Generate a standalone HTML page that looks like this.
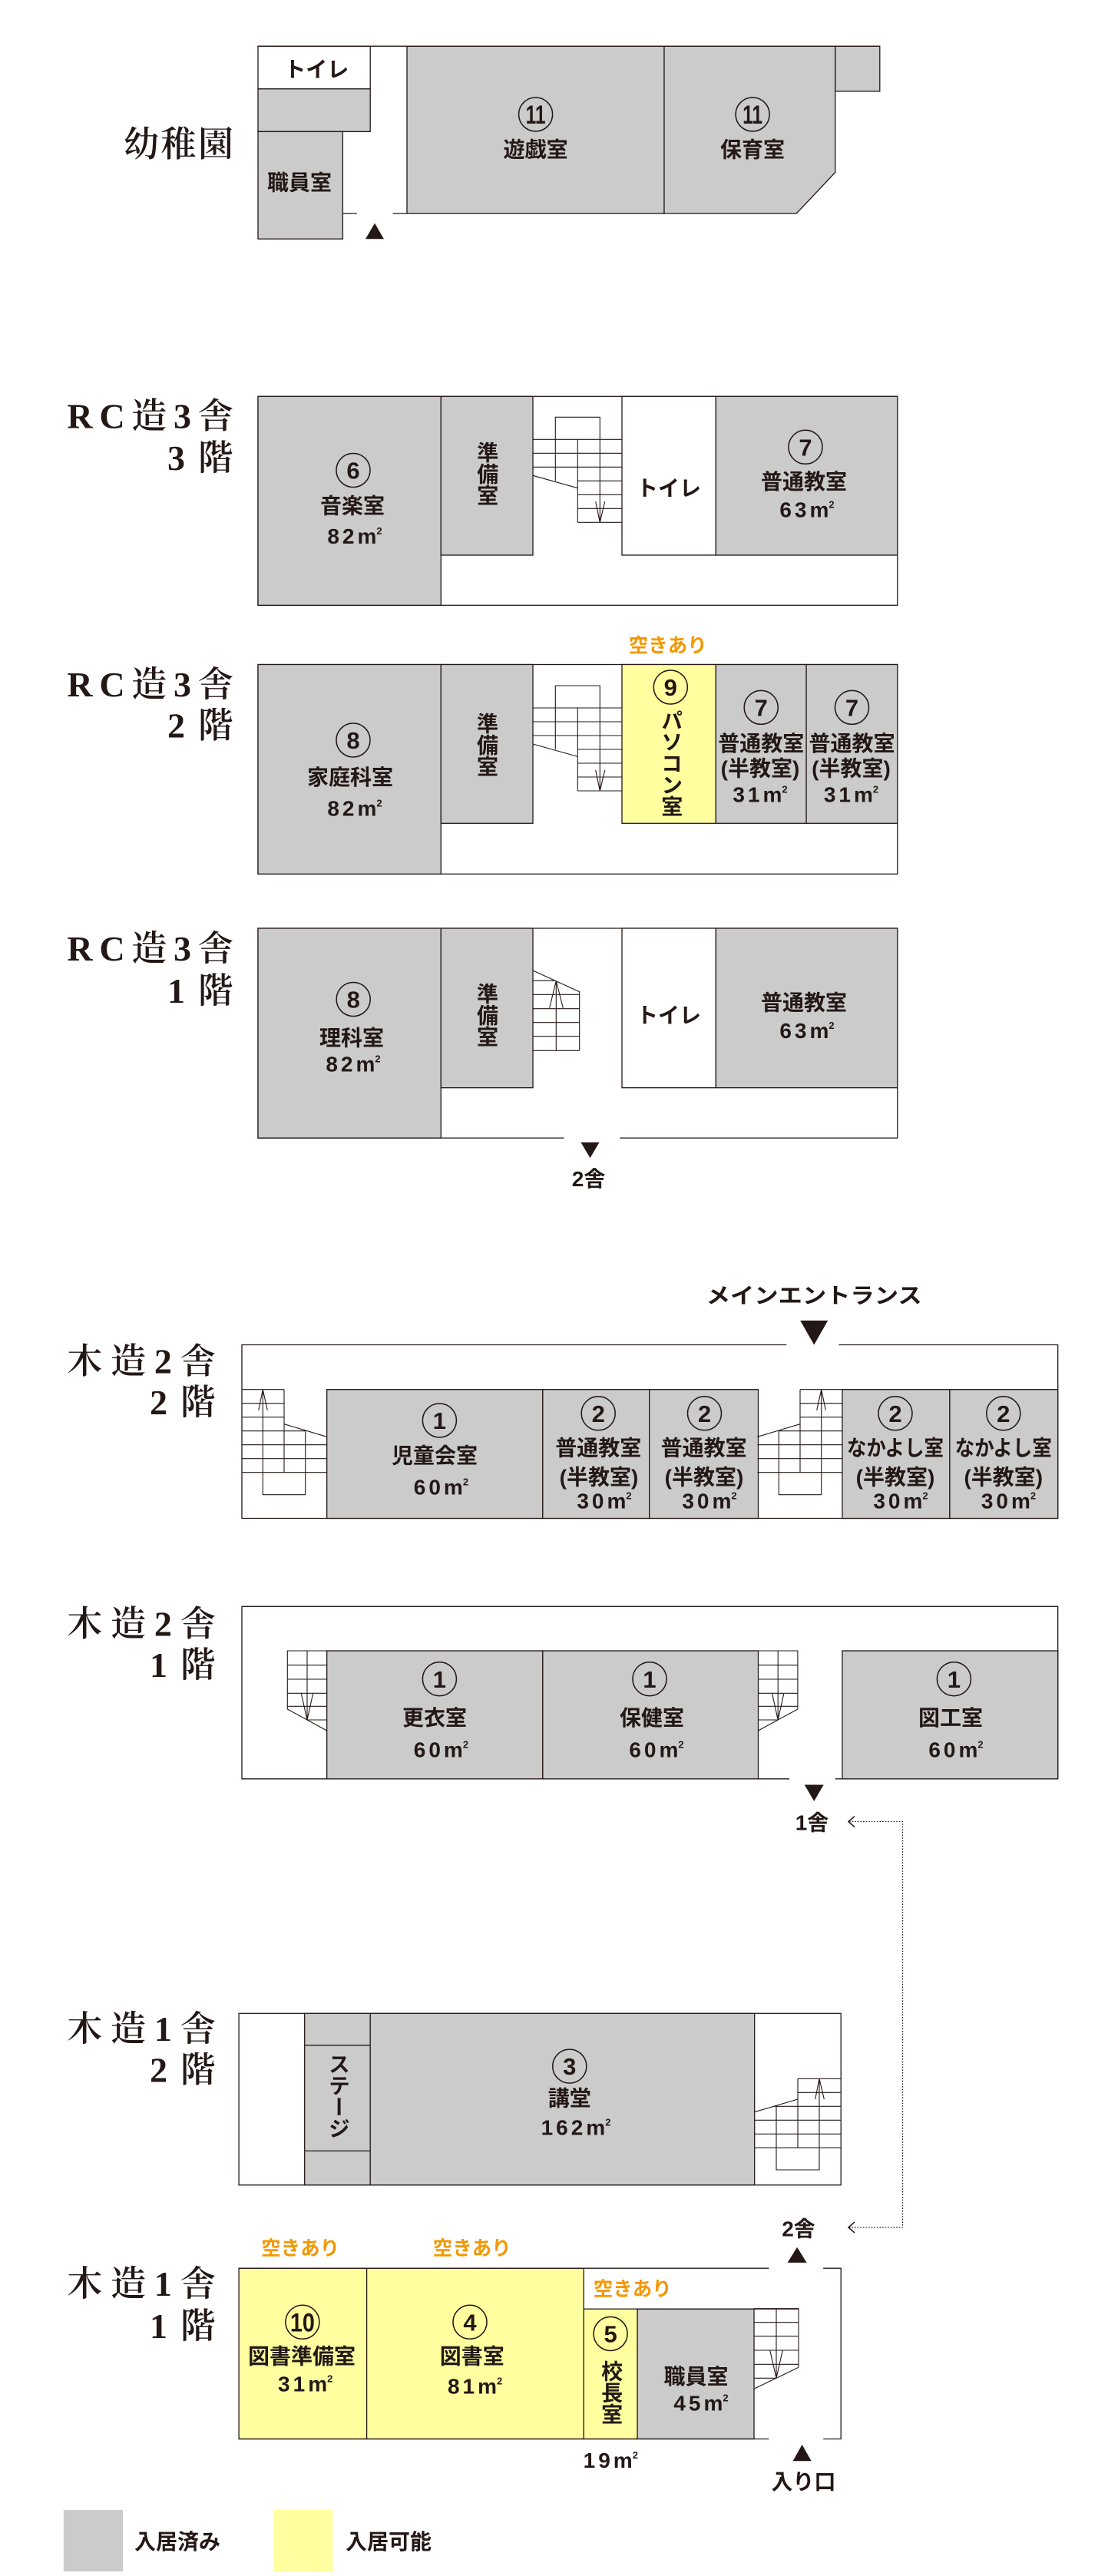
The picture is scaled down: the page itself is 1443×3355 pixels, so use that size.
<!DOCTYPE html>
<html><head><meta charset="utf-8">
<style>
html,body{margin:0;padding:0;background:#fff;}
#w{position:relative;width:1443px;height:3355px;overflow:hidden;background:#fff;}
svg{position:absolute;left:0;top:0;}
.g{fill:#cbcbcb;stroke:#231815;stroke-width:1.3}
.y{fill:#ffffa0;stroke:#231815;stroke-width:1.3}
.w{fill:#fff;stroke:#231815;stroke-width:1.3}
.n{fill:none;stroke:#231815;stroke-width:1.3}
.s{fill:none;stroke:#231815;stroke-width:1.1}
.c{fill:none;stroke:#231815;stroke-width:1.5}
.k{fill:#231815}
.t{font-family:"Liberation Sans","Noto Sans CJK JP",sans-serif;font-weight:700;font-size:28px;fill:#231815;text-anchor:middle}
.m{font-family:"Liberation Sans","Noto Sans CJK JP",sans-serif;font-weight:700;font-size:28px;fill:#231815;text-anchor:middle;letter-spacing:4px}
.o{font-family:"Liberation Sans","Noto Sans CJK JP",sans-serif;font-weight:700;font-size:25.5px;fill:#f39800;text-anchor:middle}
.cn{font-family:"Liberation Sans",sans-serif;font-weight:700;font-size:31px;fill:#231815;text-anchor:middle}
.cn2{font-family:"Liberation Sans",sans-serif;font-weight:700;font-size:34px;fill:#231815;text-anchor:middle}
.L{font-family:"Liberation Serif","Noto Serif CJK SC",serif;font-weight:600;font-size:46px;fill:#231815}
.v{position:absolute;writing-mode:vertical-rl;font-family:"Liberation Sans","Noto Sans CJK JP",sans-serif;font-weight:700;font-size:28px;line-height:28px;width:28px;color:#231815;white-space:nowrap;}
</style></head><body><div id="w">
<svg width="1443" height="3355" viewBox="0 0 1443 3355" xmlns="http://www.w3.org/2000/svg">

<!-- ===== 幼稚園 ===== -->
<rect class="w" x="336" y="60.2" width="146.2" height="55.6"/>
<rect class="g" x="336" y="115.8" width="146.2" height="55.6"/>
<rect class="g" x="336" y="171.4" width="110.4" height="139.8"/>
<rect class="g" x="530" y="60.2" width="335" height="217.9"/>
<polygon class="g" points="865,60.2 1087.8,60.2 1087.8,224.5 1037.2,278.1 865,278.1"/>
<rect class="g" x="1087.8" y="60.2" width="58" height="58.7"/>
<path class="n" d="M336,60.2H1145.8 M446.4,278.1H464.8 M511.7,278.1H530"/>
<polygon class="k" points="476,311.2 488,290.8 500,311.2"/>
<text class="L" x="161" y="203.7" textLength="143" lengthAdjust="spacing">幼稚園</text>
<text class="t" x="412.3" y="99.8">トイレ</text>
<text class="t" x="390" y="247.7">職員室</text>
<circle class="c" cx="697.6" cy="149" r="22"/><text class="cn2" x="697.6" y="161.2" textLength="26" lengthAdjust="spacingAndGlyphs">11</text>
<text class="t" x="697.6" y="204.5">遊戯室</text>
<circle class="c" cx="980.1" cy="149" r="22"/><text class="cn2" x="980.1" y="161.2" textLength="26" lengthAdjust="spacingAndGlyphs">11</text>
<text class="t" x="980" y="204.5">保育室</text>

<!-- ===== RC 3F ===== -->
<rect class="w" x="336" y="516.3" width="832.8" height="272"/>
<rect class="g" x="336" y="516.3" width="238.3" height="272"/>
<rect class="g" x="574.3" y="516.3" width="119.7" height="206.7"/>
<rect class="w" x="810" y="516.3" width="122.3" height="206.7"/>
<rect class="g" x="932.3" y="516.3" width="236.5" height="206.7"/>
<g id="st3">
<path class="s" d="M723.3,626.3V543.3H781.3V680.3 M694,572.3H810 M694,590.3H810 M694,608.3H810 M752.3,626.3H810 M752.3,644.3H810 M752.3,662.3H810 M752.3,680.3H810 M752.3,572.3V680.3 M694,619.3L752.3,635.7 M775.7,653.3L781.3,680.3L787.7,653.3"/>
</g>
<text class="L" x="87.4" y="557.3" textLength="216.3" lengthAdjust="spacing">RC造3舎</text>
<text class="L" x="218" y="611.9" textLength="85.7" lengthAdjust="spacing">3階</text>
<circle class="c" cx="460" cy="612.5" r="22"/><text class="cn" x="460" y="623.6">6</text>
<text class="t" x="459" y="668.7">音楽室</text>
<text class="m" x="462" y="708">82<tspan letter-spacing="0">m</tspan><tspan font-size="13" dy="-12" letter-spacing="0">2</tspan></text>
<text class="t" x="871" y="645.7">トイレ</text>
<circle class="c" cx="1049" cy="582.3" r="22"/><text class="cn" x="1049" y="593.4">7</text>
<text class="t" x="1047" y="637">普通教室</text>
<text class="m" x="1051" y="673.3">63<tspan letter-spacing="0">m</tspan><tspan font-size="13" dy="-12" letter-spacing="0">2</tspan></text>

<!-- ===== RC 2F ===== -->
<rect class="w" x="336" y="865.5" width="832.8" height="272.8"/>
<rect class="g" x="336" y="865.5" width="238.3" height="272.8"/>
<rect class="g" x="574.3" y="865.5" width="119.7" height="206.8"/>
<rect class="y" x="810" y="865.5" width="122.3" height="206.8"/>
<rect class="g" x="932.3" y="865.5" width="117.8" height="206.8"/>
<rect class="g" x="1050.1" y="865.5" width="118.7" height="206.8"/>
<g transform="translate(0,349.7)">
<path class="s" d="M723.3,626.3V543.3H781.3V680.3 M694,572.3H810 M694,590.3H810 M694,608.3H810 M752.3,626.3H810 M752.3,644.3H810 M752.3,662.3H810 M752.3,680.3H810 M752.3,572.3V680.3 M694,619.3L752.3,635.7 M775.7,653.3L781.3,680.3L787.7,653.3"/>
</g>
<text class="L" x="87.4" y="906.8" textLength="216.3" lengthAdjust="spacing">RC造3舎</text>
<text class="L" x="218" y="960.4" textLength="85.7" lengthAdjust="spacing">2階</text>
<text class="o" x="869.7" y="849.4">空きあり</text>
<circle class="c" cx="460" cy="964" r="22"/><text class="cn" x="460" y="975.1">8</text>
<text class="t" x="456" y="1022.2">家庭科室</text>
<text class="m" x="462" y="1062.6">82<tspan letter-spacing="0">m</tspan><tspan font-size="13" dy="-12" letter-spacing="0">2</tspan></text>
<circle class="c" cx="873.3" cy="895" r="22"/><text class="cn" x="873.3" y="906.1">9</text>
<circle class="c" cx="991.2" cy="921.4" r="22"/><text class="cn" x="991.2" y="932.5">7</text>
<text class="t" x="991.2" y="977.8">普通教室</text>
<text class="t" x="990" y="1010.5">(半教室)</text>
<text class="m" x="990" y="1044.7">31<tspan letter-spacing="0">m</tspan><tspan font-size="13" dy="-12" letter-spacing="0">2</tspan></text>
<circle class="c" cx="1109.5" cy="921.4" r="22"/><text class="cn" x="1109.5" y="932.5">7</text>
<text class="t" x="1109.5" y="977.8">普通教室</text>
<text class="t" x="1108.5" y="1010.5">(半教室)</text>
<text class="m" x="1108.5" y="1044.7">31<tspan letter-spacing="0">m</tspan><tspan font-size="13" dy="-12" letter-spacing="0">2</tspan></text>

<!-- ===== RC 1F ===== -->
<rect fill="#fff" x="336" y="1209" width="832.8" height="273.1"/>
<path class="n" d="M734.4,1482.1H336V1209H1168.8V1482.1H807.1"/>
<rect class="g" x="336" y="1209" width="238.3" height="273.1"/>
<rect class="g" x="574.3" y="1209" width="119.7" height="207.7"/>
<rect class="w" x="810" y="1209" width="122.3" height="207.7"/>
<rect class="g" x="932.3" y="1209" width="236.5" height="207.7"/>
<path class="s" d="M694,1264L754.7,1291.7V1368.3 M694,1277.3H723.3 M694,1295.3H754.7 M694,1313.7H754.7 M694,1331.7H754.7 M694,1349.7H754.7 M694,1368.3H754.7 M724.3,1277.3V1368.3 M715.7,1312.7L724.3,1277.3L733.3,1312.7"/>
<polygon class="k" points="756.5,1487.8 780.5,1487.8 768.5,1508.2"/>
<text class="t" x="766.6" y="1545.2">2舎</text>
<text class="L" x="87.4" y="1251.2" textLength="216.3" lengthAdjust="spacing">RC造3舎</text>
<text class="L" x="218" y="1305.8" textLength="85.7" lengthAdjust="spacing">1階</text>
<circle class="c" cx="460.2" cy="1301.5" r="22"/><text class="cn" x="460.2" y="1312.6">8</text>
<text class="t" x="458" y="1361.5">理科室</text>
<text class="m" x="460" y="1395.7">82<tspan letter-spacing="0">m</tspan><tspan font-size="13" dy="-12" letter-spacing="0">2</tspan></text>
<text class="t" x="871" y="1331.9">トイレ</text>
<text class="t" x="1047" y="1315.6">普通教室</text>
<text class="m" x="1051" y="1351.8">63<tspan letter-spacing="0">m</tspan><tspan font-size="13" dy="-12" letter-spacing="0">2</tspan></text>

<!-- ===== 木造2舎 2F ===== -->
<path class="n" d="M1024.3,1751.5H315V1977.5H1377.7V1751.5H1092.4"/>
<rect class="g" x="425.7" y="1809.7" width="281.1" height="167.8"/>
<rect class="g" x="706.8" y="1809.7" width="138.9" height="167.8"/>
<rect class="g" x="845.7" y="1809.7" width="141.8" height="167.8"/>
<rect class="g" x="1097" y="1809.7" width="139.9" height="167.8"/>
<rect class="g" x="1236.9" y="1809.7" width="140.8" height="167.8"/>
<path class="s" d="M315,1809.7H370 M315,1827.7H370 M315,1845.7H370 M315,1863.7H397.7 M315,1881.7H425.7 M315,1899.7H425.7 M315,1917.7H425.7 M342.3,1809.7V1946.7H397.7V1863.7 M370,1809.7V1917.7 M370,1854.7L425.7,1871.3 M336.7,1836.7L342.3,1809.7L348.3,1836.7"/>
<g transform="translate(1412,0) scale(-1,1)">
<path class="s" d="M315,1809.7H370 M315,1827.7H370 M315,1845.7H370 M315,1863.7H397.7 M315,1881.7H425.7 M315,1899.7H425.7 M315,1917.7H425.7 M342.3,1809.7V1946.7H397.7V1863.7 M370,1809.7V1917.7 M370,1854.7L425.7,1871.3 M336.7,1836.7L342.3,1809.7L348.3,1836.7"/>
</g>
<polygon class="k" points="1042.2,1719.9 1078.2,1719.9 1060.2,1751.5"/>
<text class="t" x="1060.2" y="1697.2" textLength="281" lengthAdjust="spacingAndGlyphs">メインエントランス</text>
<text class="L" x="87.4" y="1788.4" textLength="193.3" lengthAdjust="spacing">木造2舎</text>
<text class="L" x="195" y="1842" textLength="85.7" lengthAdjust="spacing">2階</text>
<circle class="c" cx="572.4" cy="1850" r="22"/><text class="cn" x="572.4" y="1861.1">1</text>
<text class="t" x="566" y="1905.4">児童会室</text>
<text class="m" x="574.4" y="1946.7">60<tspan letter-spacing="0">m</tspan><tspan font-size="13" dy="-12" letter-spacing="0">2</tspan></text>
<circle class="c" cx="779.2" cy="1840.8" r="22"/><text class="cn" x="779.2" y="1851.9">2</text>
<text class="t" x="779.2" y="1895.5">普通教室</text>
<text class="t" x="780" y="1933.5">(半教室)</text>
<text class="m" x="787" y="1964.3">30<tspan letter-spacing="0">m</tspan><tspan font-size="13" dy="-12" letter-spacing="0">2</tspan></text>
<circle class="c" cx="917.5" cy="1840.8" r="22"/><text class="cn" x="917.5" y="1851.9">2</text>
<text class="t" x="916.6" y="1895.5">普通教室</text>
<text class="t" x="917" y="1933.5">(半教室)</text>
<text class="m" x="924" y="1964.3">30<tspan letter-spacing="0">m</tspan><tspan font-size="13" dy="-12" letter-spacing="0">2</tspan></text>
<circle class="c" cx="1166" cy="1840.8" r="22"/><text class="cn" x="1166" y="1851.9">2</text>
<text class="t" x="1166" y="1895.5" textLength="126" lengthAdjust="spacingAndGlyphs">なかよし室</text>
<text class="t" x="1166" y="1933.5">(半教室)</text>
<text class="m" x="1173" y="1964.3">30<tspan letter-spacing="0">m</tspan><tspan font-size="13" dy="-12" letter-spacing="0">2</tspan></text>
<circle class="c" cx="1306.8" cy="1840.8" r="22"/><text class="cn" x="1306.8" y="1851.9">2</text>
<text class="t" x="1306.8" y="1895.5" textLength="126" lengthAdjust="spacingAndGlyphs">なかよし室</text>
<text class="t" x="1306.8" y="1933.5">(半教室)</text>
<text class="m" x="1313.5" y="1964.3">30<tspan letter-spacing="0">m</tspan><tspan font-size="13" dy="-12" letter-spacing="0">2</tspan></text>

<!-- ===== 木造2舎 1F ===== -->
<path class="n" d="M1028,2316.8H315V2092.3H1377.7V2316.8H1087.8"/>
<rect class="g" x="425.7" y="2150" width="281.1" height="166.8"/>
<rect class="g" x="706.8" y="2150" width="280.7" height="166.8"/>
<rect class="g" x="1097" y="2150" width="280.7" height="166.8"/>
<path class="s" d="M374.3,2226V2150H425.7 M374.3,2168.7H425.7 M374.3,2187H425.7 M374.3,2205.3H425.7 M374.3,2222.3H425.7 M400,2240H425.7 M400,2150V2240 M374.3,2226L425.7,2254 M392.3,2205.3L400,2240L407.7,2205.3"/>
<g transform="translate(1413.2,0) scale(-1,1)">
<path class="s" d="M374.3,2226V2150H425.7 M374.3,2168.7H425.7 M374.3,2187H425.7 M374.3,2205.3H425.7 M374.3,2222.3H425.7 M400,2240H425.7 M400,2150V2240 M374.3,2226L425.7,2254 M392.3,2205.3L400,2240L407.7,2205.3"/>
</g>
<polygon class="k" points="1047.7,2324.5 1072.7,2324.5 1060.2,2345.9"/>
<text class="t" x="1057.5" y="2383.5">1舎</text>
<path fill="none" stroke="#231815" stroke-width="1.3" stroke-dasharray="1.6 2" d="M1106,2372.5H1175.5V2901H1106"/>
<polyline fill="none" stroke="#231815" stroke-width="1.5" points="1113,2365.5 1105,2372.5 1113,2379.5"/>
<polyline fill="none" stroke="#231815" stroke-width="1.5" points="1113,2894 1105,2901 1113,2908"/>
<text class="L" x="87.4" y="2130.3" textLength="193.3" lengthAdjust="spacing">木造2舎</text>
<text class="L" x="195" y="2183.8" textLength="85.7" lengthAdjust="spacing">1階</text>
<circle class="c" cx="572.4" cy="2186.7" r="22"/><text class="cn" x="572.4" y="2197.8">1</text>
<text class="t" x="566" y="2247.2">更衣室</text>
<text class="m" x="574.4" y="2288.6">60<tspan letter-spacing="0">m</tspan><tspan font-size="13" dy="-12" letter-spacing="0">2</tspan></text>
<circle class="c" cx="846" cy="2186.7" r="22"/><text class="cn" x="846" y="2197.8">1</text>
<text class="t" x="849" y="2247.2">保健室</text>
<text class="m" x="855" y="2288.6">60<tspan letter-spacing="0">m</tspan><tspan font-size="13" dy="-12" letter-spacing="0">2</tspan></text>
<circle class="c" cx="1242.4" cy="2186.7" r="22"/><text class="cn" x="1242.4" y="2197.8">1</text>
<text class="t" x="1238" y="2247.2">図工室</text>
<text class="m" x="1245" y="2288.6">60<tspan letter-spacing="0">m</tspan><tspan font-size="13" dy="-12" letter-spacing="0">2</tspan></text>

<!-- ===== 木造1舎 2F ===== -->
<rect class="w" x="311.1" y="2622.3" width="784.1" height="223.5"/>
<rect class="g" x="396.7" y="2622.3" width="85.5" height="223.5"/>
<path class="n" d="M396.7,2663.7H482.2 M396.7,2801.4H482.2"/>
<rect class="g" x="482.2" y="2622.3" width="500.5" height="223.5"/>
<path class="s" d="M1039,2707.3H1095 M1039,2725.3H1095 M1007.3,2743.3H1095 M982.7,2761.3H1095 M982.7,2779.3H1095 M982.7,2797.3H1095 M1011,2743.3V2826H1067V2707.3 M1039,2707.3V2797.3 M982.7,2750.7L1039,2734 M1061.7,2734L1067,2707.3L1073.3,2734"/>
<text class="L" x="87.4" y="2658.1" textLength="193.3" lengthAdjust="spacing">木造1舎</text>
<text class="L" x="195" y="2711.7" textLength="85.7" lengthAdjust="spacing">2階</text>
<circle class="c" cx="741.8" cy="2691.1" r="22"/><text class="cn" x="741.8" y="2702.2">3</text>
<text class="t" x="741.8" y="2742.4">講堂</text>
<text class="m" x="750" y="2780.3">162<tspan letter-spacing="0">m</tspan><tspan font-size="13" dy="-12" letter-spacing="0">2</tspan></text>

<!-- ===== 木造1舎 1F ===== -->
<rect fill="#fff" x="311.1" y="2954.2" width="784.1" height="222.3"/>
<rect class="y" x="311.1" y="2954.2" width="166.5" height="222.3"/>
<rect class="y" x="477.6" y="2954.2" width="282.6" height="222.3"/>
<rect class="y" x="760.2" y="3007.2" width="69.9" height="169.3"/>
<rect class="g" x="830.1" y="3007.2" width="151.9" height="169.3"/>
<path class="n" d="M311.1,2954.2H1001.3 M1072.2,2954.2H1095.2V3176.5H1072.2 M1001.3,3176.5H311.1 M830.1,3007.2H1040"/>
<path class="s" d="M982,3006.7H1040V3083.3 M982,3024.7H1040 M982,3042.7H1040 M982,3061H1040 M982,3079.3H1040 M982,3097.3H1010 M1011,3006.7V3097.3 M1040,3083.3L982,3111.3 M1002.7,3061L1011,3097.3L1019.3,3061"/>
<polygon class="k" points="1025.6,2946.9 1038.1,2926.8 1050.6,2946.9"/>
<text class="t" x="1040" y="2912.5">2舎</text>
<polygon class="k" points="1032.6,3205.2 1044.6,3183.9 1056.6,3205.2"/>
<text class="t" x="1046.4" y="3241.8">入り口</text>
<text class="L" x="87.4" y="2990" textLength="193.3" lengthAdjust="spacing">木造1舎</text>
<text class="L" x="195" y="3044.8" textLength="85.7" lengthAdjust="spacing">1階</text>
<text class="o" x="391.1" y="2937">空きあり</text>
<text class="o" x="614.8" y="2937">空きあり</text>
<text class="o" x="823.7" y="2990">空きあり</text>
<circle class="c" cx="393.9" cy="3024.3" r="22"/><text class="cn2" x="393.9" y="3036.5" textLength="32" lengthAdjust="spacingAndGlyphs">10</text>
<text class="t" x="393" y="3078.6">図書準備室</text>
<text class="m" x="397.7" y="3114.7">31<tspan letter-spacing="0">m</tspan><tspan font-size="13" dy="-12" letter-spacing="0">2</tspan></text>
<circle class="c" cx="612" cy="3024.3" r="22"/><text class="cn" x="612" y="3035.4">4</text>
<text class="t" x="614.8" y="3078.6">図書室</text>
<text class="m" x="618.6" y="3117.7">81<tspan letter-spacing="0">m</tspan><tspan font-size="13" dy="-12" letter-spacing="0">2</tspan></text>
<circle class="c" cx="795.1" cy="3039.5" r="22"/><text class="cn" x="795.1" y="3050.6">5</text>
<text class="t" x="906.5" y="3104.8">職員室</text>
<text class="m" x="913" y="3139.6">45<tspan letter-spacing="0">m</tspan><tspan font-size="13" dy="-12" letter-spacing="0">2</tspan></text>
<text class="m" x="795.3" y="3213.9">19<tspan letter-spacing="0">m</tspan><tspan font-size="13" dy="-12" letter-spacing="0">2</tspan></text>

<!-- ===== Legend ===== -->
<rect fill="#cbcbcb" x="82.8" y="3269" width="77.3" height="80"/>
<rect fill="#ffffa0" x="356.2" y="3269" width="77.3" height="80"/>
<text class="t" x="231" y="3319.8">入居済み</text>
<text class="t" x="506" y="3319.8">入居可能</text>
</svg>

<div class="v" style="left:619.2px;top:575.4px;">準備室</div>
<div class="v" style="left:619px;top:927.7px;">準備室</div>
<div class="v" style="left:619px;top:1279.7px;">準備室</div>
<div class="v" style="left:859.3px;top:924px;">パソコン室</div>
<div class="v" style="left:425.9px;top:2674.4px;">ステージ</div>
<div class="v" style="left:781.1px;top:3073.6px;">校長室</div>
</div></body></html>
